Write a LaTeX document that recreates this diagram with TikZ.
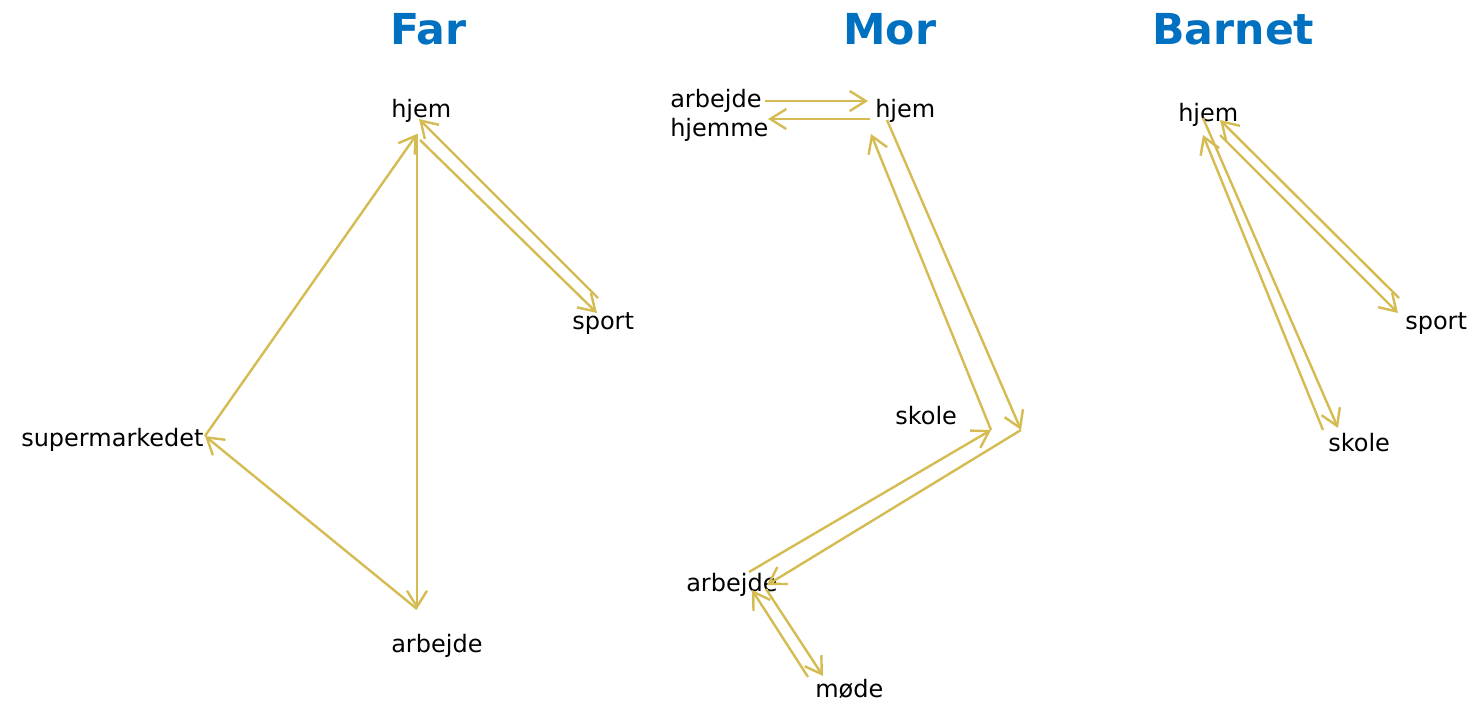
\documentclass[tikz,border=0pt]{standalone}
\usepackage{fontspec}
\setmainfont{DejaVu Sans}
\usetikzlibrary{arrows.meta}
\definecolor{headblue}{RGB}{0,112,192}
\definecolor{routegold}{RGB}{213,188,82}
\tikzset{
  >={Straight Barb[length=12pt,width=15pt]},
  place/.style={anchor=base west,inner sep=0pt,font=\fontsize{18}{21}\selectfont},
  heading/.style={anchor=base west,inner sep=0pt,text=headblue,font=\fontsize{32}{38}\selectfont\bfseries},
  route/.style={->,draw=routegold,line width=1.8pt}
}
\begin{document}
\begin{tikzpicture}[x=0.75pt,y=-0.75pt]
      \useasboundingbox (0,0) rectangle (1468,702);
      %Far
      \node[heading] (far) at (390,45) {Far};
      \node[place] (fHjem) at (391,118) {hjem};
      \node[place] (fSport) at (572,330) {sport};
      \node[place] (fSuper) at (21,446) {supermarkedet};
      \node[place] (fArbejde) at (391,652) {arbejde};
      \coordinate (fa) at (420,140);
      \coordinate (fb) at (597,313);
      \coordinate (fc) at (598,298);
      \coordinate (fd) at (419,119);
      \coordinate (fe) at (205,436);
      \coordinate (ff) at (417,134);
      \coordinate (fg) at (417,609);
      \draw[route] (fa) -- (fb);
      \draw[route] (fc) -- (fd);
      \draw[route] (fe) -- (ff);
      \draw[route] (ff) -- (fg);
      \draw[route] (fg) -- (fe);
      %Mor
      \node[heading] (mor) at (843,45) {Mor};
      \node[place] (mHjemme) at (670,108) {arbejde};
      \node[place] (mHjemme2) at (670,137) {hjemme};
      \node[place] (mHjem) at (875,118) {hjem};
      \node[place] (mSkole) at (895,424) {skole};
      \node[place] (mArbejde) at (686,591) {arbejde};
      \node[place] (mMoede) at (815,697) {møde};
      \coordinate (ma) at (765,101);
      \coordinate (mb) at (868,101);
      \coordinate (mc) at (870,119);
      \coordinate (md) at (768,119);
      \coordinate (me) at (887,120);
      \coordinate (mf) at (1021,430);
      \coordinate (mg) at (767,585);
      \coordinate (mh) at (749,572);
      \coordinate (mi) at (991,430);
      \coordinate (mj) at (871,134);
      \coordinate (mk) at (808,677);
      \coordinate (ml) at (752,590);
      \coordinate (mm) at (766,589);
      \coordinate (mn) at (823,676);
      \draw[route] (ma) -- (mb);
      \draw[route] (mc) -- (md);
      \draw[route] (me) -- (mf);
      \draw[route] (mf) -- (mg);
      \draw[route] (mh) -- (mi);
      \draw[route] (mi) -- (mj);
      \draw[route] (mk) -- (ml);
      \draw[route] (mm) -- (mn);
      %Barnet
      \node[heading] (barnet) at (1152,45) {Barnet};
      \node[place] (bHjem) at (1178,122) {hjem};
      \node[place] (bSport) at (1405,330) {sport};
      \node[place] (bSkole) at (1328,451) {skole};
      \coordinate (ba) at (1220,135);
      \coordinate (bb) at (1398,313);
      \coordinate (bc) at (1399,298);
      \coordinate (bd) at (1220,120);
      \coordinate (be) at (1203,118);
      \coordinate (bf) at (1338,428);
      \coordinate (bg) at (1323,430);
      \coordinate (bh) at (1203,135);
      \draw[route] (ba) -- (bb);
      \draw[route] (bc) -- (bd);
      \draw[route] (be) -- (bf);
      \draw[route] (bg) -- (bh);
\end{tikzpicture}
\end{document}
